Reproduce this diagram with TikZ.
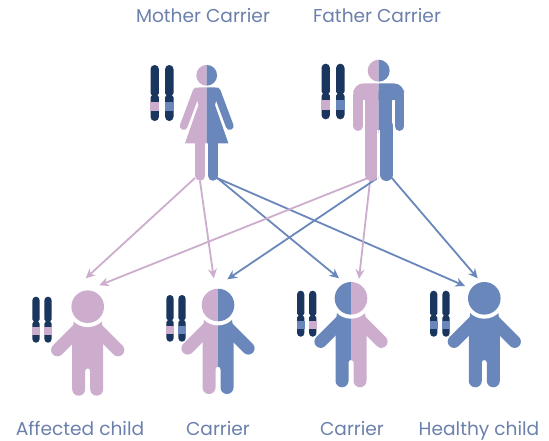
\documentclass[tikz,border=0pt]{standalone}
\usepackage{fontspec}
\setmainfont{Poppins}
\usetikzlibrary{arrows.meta}
\definecolor{pinkc}{HTML}{CDADCD}
\definecolor{bluec}{HTML}{6A87BB}
\definecolor{navyc}{HTML}{1A365F}
\definecolor{textc}{HTML}{6C80AC}
\tikzset{
  lbl/.style={text=textc,font=\fontsize{18.6}{22}\selectfont,inner sep=0pt,anchor=base},
  conn/.style={line width=1.8pt,-{Stealth[length=9.5pt,width=9pt]}},
  pinkconn/.style={conn,draw=pinkc},
  blueconn/.style={conn,draw=bluec},
}
% chromosome: x, top, height, width, band colour
\newcommand{\chromo}[5]{%
  \begin{scope}[shift={(#1,#2)}]
    \fill[navyc,rounded corners=#4*0.49pt] (-#4/2,0) rectangle (#4/2,#3);
    \fill[#5] (-#4/2-0.2,#3*0.655) rectangle (#4/2+0.2,#3*0.83);
    \fill[white] (-#4/2-0.5,#3*0.54-2.2) -- (-#4/2+1.3,#3*0.54) -- (-#4/2-0.5,#3*0.54+2.2) -- cycle;
    \fill[white] (#4/2+0.5,#3*0.54-2.2) -- (#4/2-1.3,#3*0.54) -- (#4/2+0.5,#3*0.54+2.2) -- cycle;
  \end{scope}}
\newcommand{\childshape}[1]{%
  \fill[#1] (-14,14) -- (14,14) -- (15.5,28) -- (15.5,82.5)
     arc[start angle=0,end angle=180,radius=6.5] -- (2.5,64.2)
     arc[start angle=0,end angle=-180,radius=2.5] -- (-2.5,82.5)
     arc[start angle=0,end angle=180,radius=6.5] -- (-15.5,28) -- cycle;
  \draw[#1,line width=12.6pt,line cap=round] (-30.3,43.3) -- (-8,21);
  \draw[#1,line width=12.6pt,line cap=round] (30.3,43.3) -- (8,21);
  \fill[white] (0,0) circle[radius=20.4];
  \fill[#1] (0,0) circle[radius=16.3];
}
\newcommand{\motherskin}[1]{%
  \fill[#1] (0,12) -- (-8,12) -- (-12,16) -- (-8.3,29.7) -- (-21.7,68) -- (21.7,68) -- (8.3,29.7) -- (12,16) -- (8,12) -- cycle;
  \draw[#1,line width=7.8pt,line cap=round] (-10,16) -- (-23,50.7);
  \draw[#1,line width=7.8pt,line cap=round] (10,16) -- (23,50.7);
  \draw[#1,line width=9.9pt,line cap=round] (-6.3,66) -- (-6.3,100.5);
  \draw[#1,line width=9.9pt,line cap=round] (6.3,66) -- (6.3,100.5);
  \fill[#1] (0,0) circle[radius=10.4];
}
\newcommand{\fathershape}[1]{%
  \fill[#1,rounded corners=10pt] (-25.3,29.3) -- (-25.3,12.7) -- (25.3,12.7) -- (25.3,29.3) -- cycle;
  \fill[#1] (-13.7,20) rectangle (13.7,62);
  \draw[#1,line width=9.3pt,line cap=round] (-20.7,24) -- (-20.7,55.6);
  \draw[#1,line width=9.3pt,line cap=round] (20.7,24) -- (20.7,55.6);
  \draw[#1,line width=12.6pt,line cap=round] (-7.5,55) -- (-7.5,104);
  \draw[#1,line width=12.6pt,line cap=round] (7.5,55) -- (7.5,104);
  \fill[white] (-1.3,59) rectangle (1.3,115);
  \fill[#1] (0,0) circle[radius=11];
}
% two-coloured figure: shape macro, cx, cy, left colour, right colour
\newcommand{\figtwo}[5]{%
  \begin{scope}[shift={(#2,#3)}]
    \begin{scope}\clip (-60,-30) rectangle (0,120); #1{#4} \end{scope}
    \begin{scope}\clip (0,-30) rectangle (60,120); #1{#5} \end{scope}
  \end{scope}}
% one-coloured figure: shape macro, cx, cy, colour
\newcommand{\figone}[4]{%
  \begin{scope}[shift={(#2,#3)}] #1{#4} \end{scope}}
\begin{document}
\begin{tikzpicture}[x=1pt,y=-1pt]
\useasboundingbox (0,0) rectangle (549,440);
\fill[white] (0,0) rectangle (549,440);
% connector ends
\coordinate (mp1) at (195,178);
\coordinate (mp2) at (200,181);
\coordinate (mb1) at (216,177);
\coordinate (mb2) at (217,178);
\coordinate (fp1) at (368,178);
\coordinate (fp2) at (370,181);
\coordinate (fb1) at (379,177);
\coordinate (fb2) at (391,177);
\coordinate (c1a) at (85.7,278.3);
\coordinate (c1b) at (99.3,285.3);
\coordinate (c2a) at (213.8,278.3);
\coordinate (c2b) at (227.3,279.3);
\coordinate (c3a) at (339,278.3);
\coordinate (c3b) at (359,278.8);
\coordinate (c4a) at (465,286);
\coordinate (c4b) at (477.7,278.3);
% connectors
\draw[pinkconn] (mp1) -- (c1a);
\draw[pinkconn] (mp2) -- (c2a);
\draw[blueconn] (mb1) -- (c3a);
\draw[blueconn] (mb2) -- (c4a);
\draw[pinkconn] (fp1) -- (c1b);
\draw[pinkconn] (fp2) -- (c3b);
\draw[blueconn] (fb1) -- (c2b);
\draw[blueconn] (fb2) -- (c4b);
% figures
\figtwo{\motherskin}{206.7}{75.3}{pinkc}{bluec}
\figtwo{\fathershape}{378.7}{70.7}{pinkc}{bluec}
\figone{\childshape}{87.7}{306.7}{pinkc}
\figtwo{\childshape}{218}{305}{pinkc}{bluec}
\figtwo{\childshape}{351}{298.3}{bluec}{pinkc}
\figone{\childshape}{484.3}{298.3}{bluec}
% chromosomes
\chromo{154.7}{65}{56}{8.4}{pinkc}
\chromo{169.3}{65}{56}{8.4}{bluec}
\chromo{325.7}{63.7}{55.6}{8.4}{pinkc}
\chromo{340.3}{63.7}{55.6}{8.4}{bluec}
\chromo{36}{296.7}{46}{7.2}{pinkc}
\chromo{48}{296.7}{46}{7.2}{pinkc}
\chromo{170}{295}{46.7}{7.2}{pinkc}
\chromo{182}{295}{46.7}{7.2}{bluec}
\chromo{300.7}{290.7}{46}{7.2}{bluec}
\chromo{312.7}{290.7}{46}{7.2}{pinkc}
\chromo{433.7}{290.7}{46}{7.2}{bluec}
\chromo{446}{290.7}{46}{7.2}{bluec}
% labels
\node[lbl] (tm) at (203,22) {Mother Carrier};
\node[lbl] (tf) at (377,22) {Father Carrier};
\node[lbl] (t1) at (80,435.5) {Affected child};
\node[lbl] (t2) at (218,435.5) {Carrier};
\node[lbl] (t3) at (352,435.5) {Carrier};
\node[lbl] (t4) at (479,435.5) {Healthy child};
\end{tikzpicture}
\end{document}
